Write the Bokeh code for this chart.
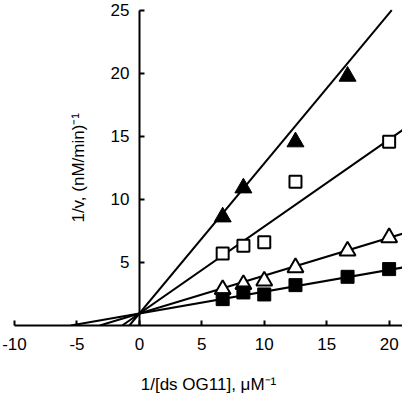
import math
from bokeh.plotting import figure
from bokeh.models import FixedTicker, Range1d, Label
from bokeh.embed import file_html
from bokeh.resources import INLINE

# ---- data ----
tri_filled_x = [6.67, 8.33, 12.5, 16.67]
tri_filled_y = [8.6, 10.9, 14.55, 19.75]

sq_open_x = [6.67, 8.33, 10.0, 12.5, 20.0]
sq_open_y = [5.71, 6.32, 6.59, 11.4, 14.57]

tri_open_x = [6.67, 8.33, 10.0, 12.5, 16.67, 20.0]
tri_open_y = [2.86, 3.26, 3.53, 4.59, 5.91, 6.97]

sq_filled_x = [6.67, 8.33, 10.0, 12.5, 16.67, 20.0]
sq_filled_y = [2.09, 2.62, 2.46, 3.2, 3.86, 4.47]

fit_intercept = 0.95
fit_slopes = [1.19, 0.69, 0.30, 0.173]

x_ticks = [-10, -5, 0, 5, 10, 15, 20]
x_tick_labels = ["-10", "-5", "0", "5", "10", "15", "20"]
y_ticks = [5, 10, 15, 20, 25]

X_MIN, X_MAX = -10, 21.07
Y_MIN, Y_TOP = 0, 25          # axis extent
Y_VIEW = 25.6                 # a little headroom so the "25" label is not cut

FONT = "Liberation Sans"
FS = "17px"

p = figure(frame_width=388, frame_height=323,
           x_range=Range1d(X_MIN, X_MAX), y_range=Range1d(Y_MIN, Y_VIEW),
           output_backend="svg", toolbar_location=None,
           min_border_left=14, min_border_right=0, min_border_top=2, min_border_bottom=0)
p.outline_line_color = None
p.xgrid.visible = False
p.ygrid.visible = False
p.background_fill_color = "white"
p.border_fill_color = "white"

# fitted lines (double-reciprocal fits)
xs, ys = [], []
for m in fit_slopes:
    x0 = -fit_intercept / m
    x1 = min(X_MAX, (Y_TOP - fit_intercept) / m)
    xs.append([x0, x1])
    ys.append([0, fit_intercept + m * x1])
p.multi_line(xs, ys, line_color="black", line_width=2)

# markers
p.scatter(tri_filled_x, tri_filled_y, marker="triangle", size=17,
          fill_color="black", line_color="black", line_width=1)
p.scatter(sq_open_x, sq_open_y, marker="square", size=12,
          fill_color="white", line_color="black", line_width=2)
p.scatter(tri_open_x, tri_open_y, marker="triangle", size=16,
          fill_color="white", line_color="black", line_width=2)
p.scatter(sq_filled_x, sq_filled_y, marker="square", size=13,
          fill_color="black", line_color="black", line_width=1)

# axes
for ax in (p.xaxis[0], p.yaxis[0]):
    ax.axis_line_width = 2
    ax.axis_line_color = "black"
    ax.major_tick_line_width = 2
    ax.major_tick_in = 5
    ax.major_tick_out = 0
    ax.minor_tick_line_color = None
    ax.major_label_text_font = FONT
    ax.major_label_text_font_size = FS
    ax.major_label_text_color = "black"
    ax.axis_label_text_font = FONT
    ax.axis_label_text_font_size = FS
    ax.axis_label_text_font_style = "normal"
    ax.axis_label_text_color = "black"

p.xaxis.ticker = FixedTicker(ticks=x_ticks)
p.xaxis.major_label_overrides = {t: s for t, s in zip(x_ticks, x_tick_labels)}
p.xaxis.major_label_standoff = 12
p.xaxis.axis_label = "1/[ds OG11], μM⁻¹"
p.xaxis.axis_label_standoff = 22

p.yaxis.ticker = FixedTicker(ticks=y_ticks)
p.yaxis.bounds = (Y_MIN, Y_TOP)
p.yaxis.fixed_location = 0
p.yaxis.major_label_standoff = 10

# y-axis title placed beside the axis at x = 0
p.add_layout(Label(x=-4.85, y=12.5, text="1/v, (nM/min)⁻¹", angle=math.pi / 2,
                   text_align="center", text_baseline="middle",
                   text_font=FONT, text_font_size=FS, text_color="black"))

open("out.html", "w").write(file_html(p, INLINE))
